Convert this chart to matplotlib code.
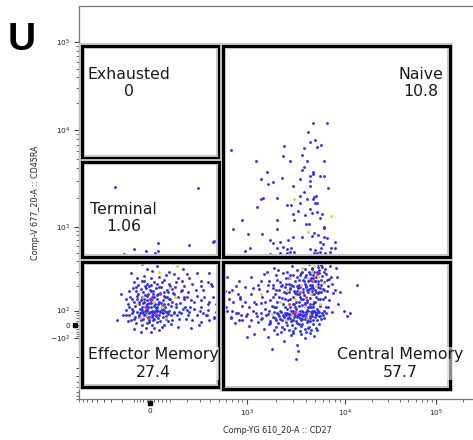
import numpy as np
import matplotlib
matplotlib.use("Agg")
import matplotlib.pyplot as plt
from matplotlib.patches import Rectangle

plt.rcParams['font.family'] = ['DejaVu Sans']
plt.rcParams['mathtext.default'] = 'regular'

# biexponential display: raw value -> display channel anchors
X_ANCHORS = [-1e5, -1e3, 0, 1e3, 1e4, 1e5, 1e7]
X_CHANNELS = [-72, 75, 149, 246, 344, 435, 617]
Y_ANCHORS = [-1e5, -1e3, -1e2, 0, 1e2, 1e3, 1e4, 1e5, 1e7]
Y_CHANNELS = [-103, 30, 95, 108, 123, 208, 307, 396, 574]

X_LIMITS = (-880, 2.7e5)
Y_LIMITS = (-690, 2.6e5)

X_TICKS = [0, 1e3, 1e4, 1e5]
X_TICK_LABELS = ['0', '$10^3$', '$10^4$', '$10^5$']
Y_TICKS = [-1e2, 0, 1e2, 1e3, 1e4, 1e5]
Y_TICK_LABELS = ['$-10^2$', '0', '$10^2$', '$10^3$', '$10^4$', '$10^5$']

# gates: (name, percent, (x0, x1), (y0, y1))
GATES = [
    ('Exhausted', '0', (-820, 500), (5100, 9.0e4)),
    ('Naive', '10.8', (550, 1.42e5), (440, 9.0e4)),
    ('Terminal', '1.06', (-820, 500), (440, 4640)),
    ('Effector Memory', '27.4', (-820, 500), (-600, 390)),
    ('Central Memory', '57.7', (550, 1.42e5), (-630, 390)),
]

# events (CD27, CD45RA)
NAIVE_EVENTS = [
    (4710, 11980), (6550, 11980), (4190, 9550), (4390, 7570), (4940, 7930), (5690, 7050),
    (5180, 6580), (680, 6140), (2385, 6890), (3810, 6430), (2330, 5340), (3640, 5460),
    (1235, 4750), (2750, 4750), (4090, 4750), (6100, 4750), (3810, 4130), (3720, 3850),
    (4710, 3680), (1600, 3680), (4760, 3480), (2276, 3200), (1390, 3130), (4390, 3350),
    (5560, 3350), (6100, 3350), (3550, 3130), (1842, 2910), (1640, 2780), (4390, 2980),
    (2950, 2660), (4390, 2660), (6700, 2540), (3810, 2310), (1390, 1960), (1456, 2010),
    (2024, 2010), (3470, 2100), (4090, 1960), (4830, 2060), (5060, 2100), (4710, 1960),
    (3550, 1750), (2560, 1670), (2810, 1670), (4940, 1750), (5180, 1750), (1265, 1590),
    (3310, 1450), (4390, 1520), (2950, 1350), (3900, 1320), (4610, 1380), (5180, 1420),
    (5830, 1350), (885, 1180), (2024, 1180), (3020, 1180), (5560, 1230), (4000, 1070),
    (4290, 1070), (6100, 1000), (6200, 975), (715, 949), (2024, 949), (1024, 831),
    (1423, 831), (2950, 768), (4830, 853), (3720, 768), (4610, 788), (5300, 810),
    (6100, 768), (6550, 748), (1716, 710), (1842, 656), (2172, 673), (2620, 710),
    (7900, 673), (5560, 673), (5960, 639), (1073, 575), (950, 530), (2024, 575),
    (2330, 590), (2560, 560), (2810, 575), (3020, 517), (4390, 560), (4940, 545),
    (5690, 575), (7200, 575), (7900, 575), (2172, 503), (2560, 503), (2750, 517),
    (4830, 503), (5180, 503), (5560, 517), (6250, 503), (7030, 517), (1716, 490),
    (2276, 475), (2500, 475), (5060, 430), (5300, 445), (5560, 420), (5830, 450),
    (6100, 432), (6400, 445), (4830, 425), (5690, 412), (620, 455), (1180, 448),
    (1500, 460), (1950, 452), (3300, 455), (4300, 462),
]

TERMINAL_EVENTS = [
    (-265, 2600), (284, 2540), (38, 656), (-104, 560), (-25, 530), (-181, 490),
    (24, 503), (38, 530), (24, 453), (214, 620), (437, 691), (251, 465), (426, 673),
]

EM_EVENTS = [
    (-50, 365), (34, 345), (-14, 320), (9, 305), (95, 293), (122, 279), (173, 326), (205, 279),
    (280, 287), (390, 287), (410, 380), (-125, 287), (-79, 255), (-36, 266), (5, 249), (45, 262),
    (78, 271), (143, 255), (216, 249), (310, 234), (375, 224), (-102, 224), (-50, 234), (-14, 214),
    (21, 224), (61, 224), (95, 214), (132, 224), (183, 204), (240, 214), (310, 204), (410, 214),
    (-208, 162), (-137, 178), (-90, 194), (-57, 186), (-25, 190), (5, 178), (29, 190), (53, 194),
    (86, 182), (113, 186), (161, 178), (209, 170), (280, 154), (340, 148), (428, 148), (480, 141),
    (-113, 141), (-79, 154), (-50, 148), (-14, 154), (13, 148), (37, 157), (70, 154), (95, 141),
    (143, 148), (183, 141), (229, 135), (310, 135), (390, 129), (460, 123), (-150, 123), (-102, 129),
    (-68, 123), (-36, 129), (-4, 126), (21, 116), (45, 129), (70, 123), (104, 116), (132, 111),
    (173, 105), (205, 101), (253, 105), (310, 111), (375, 101), (-164, 101), (-113, 105), (-79, 88),
    (-50, 101), (-14, 105), (13, 88), (37, 101), (61, 105), (86, 81), (122, 72), (161, 72),
    (216, 88), (280, 58), (355, 58), (440, 47), (-245, 27), (-137, 58), (-102, 36), (-68, 47),
    (-36, 58), (-4, 47), (21, 36), (45, 58), (78, 36), (113, 27), (151, 36), (193, 32),
    (240, 27), (310, 18), (390, 27), (-90, 10), (-50, 2), (-14, 10), (13, 2), (37, 15),
    (70, 2), (104, 5), (143, -7), (229, -17), (295, 2), (-25, -17), (21, -17), (45, -27),
    (-57, -39), (5, -45), (-36, 141), (-25, 116), (5, 111), (29, 108), (-4, 72), (21, 81),
    (37, 111), (61, 116), (-14, 123), (-50, 111), (5, 135), (50, 88), (13, 47), (-40, 32),
    (-4, 27), (-62, 72), (70, 101), (-25, 101), (-80, 140), (-60, 105), (-45, 170), (-30, 95),
    (-20, 135), (-10, 160), (0, 90), (8, 125), (15, 175), (25, 95), (33, 140), (42, 120),
    (50, 165), (58, 85), (66, 135), (75, 110), (85, 150), (95, 95), (110, 130), (125, 160),
    (-95, 115), (-70, 60), (-55, 25), (-40, 80), (-18, 50), (-5, 15), (10, 60), (18, 30),
    (28, 68), (40, 40), (52, 20), (65, 75), (80, 50), (92, 22), (120, 90), (140, 60),
    (160, 125), (180, 150), (-120, 80), (-140, 110), (-110, 190), (-75, 210), (-35, 230), (5, 205),
    (35, 215), (70, 240), (100, 200), (130, 195), (170, 230), (200, 150), (220, 110), (250, 130),
    (270, 180), (300, 95), (330, 75), (-165, 140), (-190, 60), (-150, 20), (-100, -20), (60, -10),
    (-130, 150), (-110, 95), (-85, 175), (-65, 130), (-48, 85), (-32, 200), (-22, 70), (-8, 110),
    (3, 180), (12, 100), (22, 150), (31, 55), (44, 195), (55, 125), (68, 170), (78, 90),
    (90, 120), (105, 60), (115, 165), (135, 120), (150, 85), (170, 180), (190, 110), (210, 60),
    (-160, 60), (-125, 30), (-95, 45), (-75, 160), (-45, 125), (-28, 155), (-2, 200), (16, 60),
    (26, 120), (38, 160), (48, 100), (62, 45), (72, 150), (88, 70), (100, 140), (-15, 95),
    (0, 140), (14, 160), (-55, 135), (35, 95), (90, 170),
]

BRIDGE_EVENTS = [
    (330, 180), (380, 120), (420, 200), (460, 90), (500, 150), (520, 60), (560, 230), (600, 110),
    (640, 170), (680, 40), (720, 130), (760, 200), (800, 80), (850, 150), (900, 30), (480, 250),
    (560, 20), (620, 260), (440, 40), (700, 95), (370, 60), (590, 175), (650, 140), (820, 230),
]

CM_EVENTS = [
    (1350, 380), (1900, 330), (2400, 395), (2900, 350), (3600, 410), (4300, 365), (4800, 420),
    (5200, 395), (5600, 430), (6000, 405), (6400, 385), (7100, 350), (3300, 315), (5900, 340),
    (5400, 365), (4600, 330), (6800, 410), (2100, 310), (1600, 300), (8200, 330),
    (1100, 260), (1300, 210), (1500, 280), (1700, 235), (1850, 205), (2000, 270), (2200, 225),
    (2350, 290), (2550, 215), (2700, 250), (2850, 205), (3000, 275), (3150, 230), (3300, 260),
    (3450, 210), (3600, 285), (3750, 240), (3900, 215), (4050, 270), (4200, 230), (4350, 295),
    (4500, 250), (4650, 210), (4800, 275), (4950, 235), (5100, 260), (5300, 215), (5500, 285),
    (5700, 240), (5900, 265), (6200, 225), (6500, 280), (6900, 245), (7500, 215), (8400, 260),
    (3700, 300), (4400, 205), (5200, 300), (2600, 295), (6100, 300),
    (700, 180), (850, 140), (950, 195), (1100, 160), (1200, 130), (1350, 185), (1450, 150),
    (1600, 175), (1750, 135), (1850, 190), (1950, 160), (2050, 130), (2150, 180), (2300, 145),
    (2450, 195), (2550, 165), (2650, 135), (2800, 185), (2950, 150), (3050, 175), (3200, 130),
    (3350, 190), (3450, 160), (3600, 140), (3750, 185), (3850, 155), (4000, 195), (4100, 135),
    (4250, 170), (4400, 145), (4550, 190), (4700, 160), (4850, 130), (5000, 180), (5150, 150),
    (5350, 195), (5550, 140), (5750, 170), (6000, 185), (6300, 150), (6600, 175), (7000, 135),
    (7600, 165), (2250, 200), (3100, 165), (3950, 125), (4600, 175), (1400, 125), (2700, 170),
    (3500, 195), (5300, 165), (4300, 188),
    (620, 100), (760, 80), (900, 115), (1000, 70), (1150, 95), (1250, 120), (1400, 75),
    (1550, 105), (1650, 65), (1800, 115), (1900, 85), (2000, 110), (2100, 70), (2200, 100),
    (2350, 120), (2450, 80), (2600, 105), (2700, 65), (2850, 95), (2950, 120), (3050, 75),
    (3200, 105), (3300, 90), (3450, 115), (3550, 70), (3650, 100), (3800, 85), (3950, 120),
    (4050, 65), (4200, 95), (4350, 110), (4500, 75), (4650, 100), (4800, 120), (4950, 85),
    (5100, 65), (5250, 105), (5450, 90), (5650, 115), (5850, 75), (6100, 100), (6400, 80),
    (6800, 110), (7400, 90), (9800, 95), (2250, 88), (2750, 112), (3150, 62), (3700, 118),
    (4400, 88), (2900, 70), (1700, 95), (3350, 68), (4100, 102), (4700, 72),
    (680, 45), (820, 30), (980, 55), (1120, 25), (1280, 50), (1420, 35), (1580, 58),
    (1720, 22), (1880, 45), (2020, 30), (2150, 55), (2300, 25), (2420, 48), (2580, 35),
    (2720, 58), (2880, 28), (3020, 45), (3180, 22), (3320, 52), (3480, 38), (3620, 25),
    (3780, 55), (3920, 32), (4080, 48), (4250, 22), (4420, 40), (4600, 55), (4780, 30),
    (5000, 45), (5200, 25), (5450, 50), (5700, 35), (6100, 42), (2500, 60), (3400, 58),
    (1950, 40), (4150, 35), (2800, 42),
    (750, 10), (1050, -5), (1300, 15), (1500, -20), (1700, 5), (1900, -30), (2100, 12),
    (2300, -10), (2500, 18), (2700, -25), (2900, 0), (3100, -15), (3300, 10), (3500, -35),
    (3700, 5), (3900, -20), (4100, 15), (4300, -8), (4550, -30), (4800, 8), (5100, -15),
    (5500, 5), (2000, -12), (3600, -5), (2600, 2), (4000, -38),
    (1200, -60), (1650, -90), (2050, -55), (2400, -110), (2850, -70), (3250, -130), (3600, -60),
    (3950, -95), (4400, -50), (4900, -80), (2250, -45), (3000, -48), (1800, -150), (3350, -165),
    (9000, 170), (11500, 80), (10500, 55), (13500, 210), (3200, -220), (1000, -90),
    (2150, 150), (2450, 110), (2750, 190), (3050, 120), (3250, 200), (3550, 150), (3850, 230),
    (4150, 180), (4450, 120), (4750, 250), (5050, 170), (5350, 230), (5650, 190), (2350, 60),
    (2650, 40), (2950, 95), (3250, 45), (3550, 100), (3850, 60), (4150, 130), (4450, 50),
    (4750, 110), (5050, 60), (5350, 140), (1850, 150), (1650, 210), (2050, 240), (2400, 170),
    (2800, 140), (3150, 110), (3400, 240), (3800, 170), (4200, 110), (4600, 200), (5000, 130),
    (5400, 100), (5800, 210), (6200, 180), (6600, 240), (3500, 270), (3900, 320), (4400, 280),
    (4900, 300), (5300, 340), (5800, 360), (6300, 320), (4100, 390), (3000, 200), (2500, 250),
    (2000, 180), (1550, 130), (1250, 80), (1450, 40), (1750, 10), (2050, 75), (2450, 140),
    (2850, 20), (3250, 160), (3650, 35), (4050, 200), (4450, 20), (4850, 160), (5250, 80),
    (5650, 50), (6050, 140), (6450, 110), (2300, 210), (3400, 130), (4500, 110), (2600, 80),
    (3700, 60), (4800, 190), (3000, 30), (4000, 90), (5000, 230), (2200, 35), (3300, 175),
    (4400, 240), (5500, 170), (1900, 110), (2700, 215), (3800, 140), (4900, 95), (6000, 60),
    (3450, 5), (2400, -20), (4200, -15), (3000, -35), (5200, -30), (2800, 270), (3900, 260),
    (4600, 320), (5500, 310), (6700, 200), (7300, 260), (7900, 180), (8500, 120), (1400, 230),
    (1150, 190), (950, 130), (800, 160), (880, 60), (1050, 110),
]

# events in denser regions (mid / high density colour)
MID_DENSITY_EVENTS = [
    (2600, 180), (3100, 140), (3600, 210), (4200, 250), (4700, 300), (5100, 200), (3900, 110),
    (2900, 60), (2200, 130), (4500, 160), (5400, 260), (3300, 90), (1800, 70), (4100, 40),
    (2500, 30), (5600, 120), (4900, 350), (3700, 330), (1400, 160), (6000, 220), (2800, 250),
    (4300, 80), (-40, 150), (20, 130), (60, 110), (-80, 120), (100, 190), (-20, 60), (80, 40),
    (130, 150), (-60, 40), (45, 300), (140, 350), (3020, 1960), (4190, 876), (7200, 1290),
]
HIGH_DENSITY_EVENTS = [
    (3500, 170), (4600, 230), (2700, 120), (4000, 150), (5200, 280), (3100, 90),
    (10, 140), (-30, 110), (50, 160), (30, 70), (-10, 40),
]


def biex(anchors, channels, width):
    """arcsinh based display transform, piecewise fitted to the channel anchors"""
    g = np.arcsinh(np.asarray(anchors, float) / width)

    def forward(v):
        return np.interp(np.arcsinh(np.asarray(v, float) / width), g, channels)

    def inverse(c):
        return width * np.sinh(np.interp(np.asarray(c, float), channels, g))

    return forward, inverse


def split(events):
    arr = np.asarray(events, float)
    return arr[:, 0], arr[:, 1]


def minor_ticks(neg, lin, decades):
    ticks = [-v for v in neg] + [v for v in lin] + [-v for v in lin]
    for d in decades:
        ticks += [m * 10 ** d for m in range(2, 10)]
    return ticks


fig = plt.figure(figsize=(4.73, 4.40), dpi=100)
ax = fig.add_axes([79 / 473, 41 / 440, 396 / 473, 393 / 440])

ax.set_xscale('function', functions=biex(X_ANCHORS, X_CHANNELS, 200))
ax.set_yscale('function', functions=biex(Y_ANCHORS, Y_CHANNELS, 50))
ax.set_xlim(*X_LIMITS)
ax.set_ylim(*Y_LIMITS)

# events
blue = NAIVE_EVENTS + TERMINAL_EVENTS + EM_EVENTS + BRIDGE_EVENTS + CM_EVENTS
bx, by = split(blue)
ax.scatter(bx, by, s=4.2, c='#2b2bff', linewidths=0, zorder=2)
mx, my = split(MID_DENSITY_EVENTS)
ax.scatter(mx, my, s=4.2, c='#ffc21a', linewidths=0, zorder=3)
hx, hy = split(HIGH_DENSITY_EVENTS)
ax.scatter(hx, hy, s=4.2, c='#ff2a2a', linewidths=0, zorder=4)

# gates
for name, pct, (x0, x1), (y0, y1) in GATES:
    for lw, col in ((4.2, '#c4c4c4'), (2.2, 'black')):
        ax.add_patch(Rectangle((x0, y0), x1 - x0, y1 - y0, fill=False, lw=lw,
                               edgecolor=col, joinstyle='miter', zorder=5))

label_pos = {
    'Exhausted': (0.126, 0.804),
    'Naive': (0.864, 0.804),
    'Terminal': (0.112, 0.461),
    'Effector Memory': (0.187, 0.090),
    'Central Memory': (0.811, 0.090),
}
for name, pct, _, _ in GATES:
    fx, fy = label_pos[name]
    ax.text(fx, fy, name + '\n' + pct, transform=ax.transAxes, ha='center', va='center',
            multialignment='center', fontsize=11.3, color='#1a1a1a', zorder=6,
            bbox=dict(facecolor='white', alpha=0.55, edgecolor='none', pad=0.5))

# axes styling
for side in ('left', 'bottom', 'top'):
    ax.spines[side].set_color('#777777')
    ax.spines[side].set_linewidth(0.9)
ax.spines['right'].set_visible(False)

ax.set_xticks(X_TICKS, labels=X_TICK_LABELS)
ax.set_yticks(Y_TICKS, labels=Y_TICK_LABELS)
ax.set_xticks(minor_ticks([600, 500, 400, 300, 200], [20, 40, 60, 80, 100, 200, 300, 400, 500, 600, 700, 800, 900],
                          [3, 4]) + [2e5], minor=True)
ax.set_yticks(minor_ticks([200, 300, 400], [20, 40, 60, 80, 200, 300, 400, 500, 600, 700, 800, 900],
                          [3, 4]), minor=True)
ax.tick_params(which='major', direction='out', length=3.5, width=0.8, color='#444444',
               labelsize=5.3, labelcolor='#222222', pad=3)
ax.tick_params(which='minor', direction='out', length=2.2, width=0.6, color='#555555')

# zero markers on both axes
ax.plot([-0.009], [0], transform=ax.get_yaxis_transform(), marker='s', ms=3.2,
        color='black', clip_on=False, zorder=7)
ax.plot([0], [-0.011], transform=ax.get_xaxis_transform(), marker='s', ms=3.2,
        color='black', clip_on=False, zorder=7)

ax.set_xlabel('Comp-YG 610_20-A :: CD27', fontsize=5.8, color='#222222')
ax.set_ylabel('Comp-V 677_20-A :: CD45RA', fontsize=5.8, color='#222222')
ax.xaxis.label.set_va('center')
ax.yaxis.label.set_va('center')
ax.xaxis.set_label_coords(0.5, -0.079)
ax.yaxis.set_label_coords(-0.111, 0.5)

fig.text(22 / 473, 1 - 40 / 440, 'U', fontsize=28, fontweight='bold',
         family=['Liberation Sans', 'DejaVu Sans'], ha='center', va='center')

fig.savefig('out.png', dpi=100)
